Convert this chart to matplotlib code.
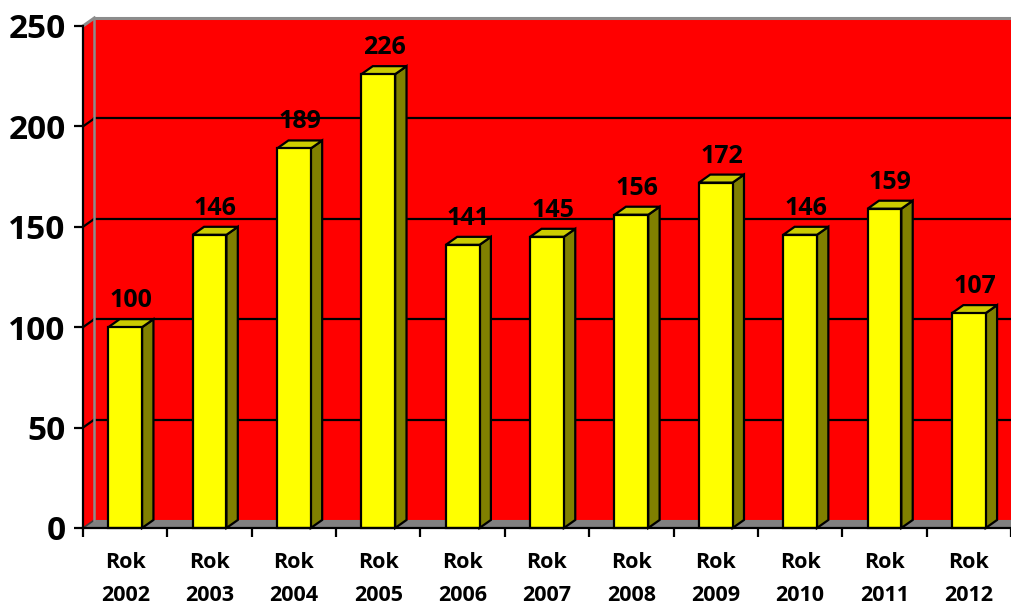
import numpy as np
import matplotlib.pyplot as plt
from matplotlib.patches import Polygon

plt.rcParams['font.family'] = ['Open Sans', 'DejaVu Sans']
plt.rcParams['font.weight'] = 'bold'

# dane
years = ['2002', '2003', '2004', '2005', '2006', '2007', '2008', '2009', '2010', '2011', '2012']
values = [100, 146, 189, 226, 141, 145, 156, 172, 146, 159, 107]
x_labels = ['Rok\n' + y for y in years]
y_ticks = [0, 50, 100, 150, 200, 250]

# wymiary "3D"
DX = 0.135   # glebokosc w jednostkach kategorii
DY = 4.0     # glebokosc w jednostkach osi y
W = 0.4      # szerokosc slupka
YMAX = 250

fig = plt.figure(figsize=(10.11, 6.06), dpi=100)
ax = fig.add_axes([83 / 1011, 78 / 606, 928 / 1011, 502 / 606])
ax.set_xlim(-0.5, len(years) - 0.5)
ax.set_ylim(0, YMAX)
ax.patch.set_visible(False)

x_left = -0.5
x_right = len(years) + 0.5

def poly(pts, fc, ec='none', lw=0, z=1):
    p = Polygon(pts, closed=True, facecolor=fc, edgecolor=ec, linewidth=lw,
                zorder=z, clip_on=False, joinstyle='miter')
    ax.add_patch(p)

# tylna sciana, lewa sciana, podloga
poly([(x_left + DX, DY), (x_right, DY), (x_right, YMAX + DY), (x_left + DX, YMAX + DY)], '#FF0000', z=0.5)
poly([(x_left, 0), (x_left + DX, DY), (x_left + DX, YMAX + DY), (x_left, YMAX)], '#FF0000', z=0.5)
poly([(x_left, 0), (x_left + DX, DY), (x_right, DY), (x_right, 0)], '#808080', z=0.6)

# linie siatki
for v in y_ticks[1:-1]:
    ax.plot([x_left + DX, x_right], [v + DY, v + DY], color='black', lw=1.6, zorder=0.8, clip_on=False)
    ax.plot([x_left, x_left + DX], [v, v + DY], color='black', lw=1.6, zorder=0.8, clip_on=False)
ax.plot([x_left, x_left + DX], [0, DY], color='#404040', lw=1.2, zorder=0.8, clip_on=False)

# ramka scian
ax.plot([x_left + DX, x_right], [YMAX + DY, YMAX + DY], color='#8C8C8C', lw=2.2, zorder=0.9, clip_on=False)
ax.plot([x_left + DX, x_left + DX], [DY, YMAX + DY], color='#8C8C8C', lw=1.8, zorder=0.9, clip_on=False)
ax.plot([x_left, x_left + DX], [YMAX, YMAX + DY], color='#8C8C8C', lw=2.2, zorder=0.9, clip_on=False)

# slupki
for i, v in enumerate(values):
    x0, x1 = i - W / 2, i + W / 2
    poly([(x1, 0), (x1 + DX, DY), (x1 + DX, v + DY), (x1, v)], '#808000', 'black', 1.6, 3)
    poly([(x0, v), (x0 + DX, v + DY), (x1 + DX, v + DY), (x1, v)], '#CCCC00', 'black', 1.6, 3)
    poly([(x0, 0), (x1, 0), (x1, v), (x0, v)], '#FFFF00', 'black', 1.6, 3)
    ax.text(i + DX / 2, v + DY + 6, str(v), ha='center', va='baseline',
            fontsize=18, fontweight='bold', zorder=5)

# osie
for s in ['top', 'right']:
    ax.spines[s].set_visible(False)
ax.spines['left'].set_linewidth(1.6)
ax.spines['bottom'].set_linewidth(1.6)
ax.spines['left'].set_zorder(4)
ax.spines['bottom'].set_zorder(4)

ax.set_yticks(y_ticks)
ax.set_yticklabels([str(t) for t in y_ticks], fontsize=24, fontweight='bold')
ax.tick_params(axis='y', length=6.5, width=1.6, pad=6)

ax.set_xticks(np.arange(len(years) + 1) - 0.5)
ax.set_xticklabels([])
ax.tick_params(axis='x', which='major', length=6.5, width=1.6, direction='out')
ax.set_xticks(np.arange(len(years)), minor=True)
ax.set_xticklabels(x_labels, minor=True, fontsize=15.5, fontweight='bold', linespacing=1.75)
ax.tick_params(axis='x', which='minor', length=0, pad=17)

fig.savefig('out.png', dpi=100)
